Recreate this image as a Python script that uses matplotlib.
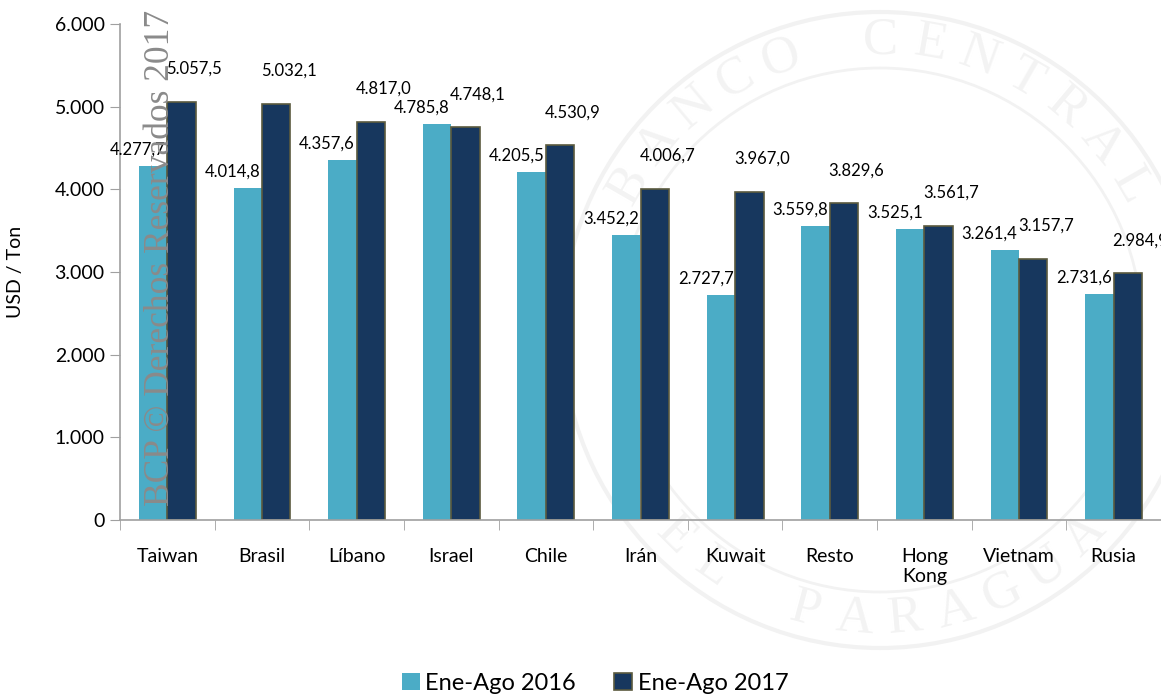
import matplotlib.pyplot as plt
import numpy as np
from matplotlib.patches import Circle

plt.rcParams['font.family'] = ['Lato', 'DejaVu Sans']

# data
paises = ['Taiwan', 'Brasil', 'Líbano', 'Israel', 'Chile', 'Irán', 'Kuwait',
          'Resto', 'Hong\nKong', 'Vietnam', 'Rusia']
ene_ago_2016 = [4277.7, 4014.8, 4357.6, 4785.8, 4205.5, 3452.2, 2727.7,
                3559.8, 3525.1, 3261.4, 2731.6]
ene_ago_2017 = [5057.5, 5032.1, 4817.0, 4748.1, 4530.9, 4006.7, 3967.0,
                3829.6, 3561.7, 3157.7, 2984.9]
serie_labels = ['Ene-Ago 2016', 'Ene-Ago 2017']


def fmt_es(v, dec=1):
    s = f"{v:,.{dec}f}"
    return s.replace(',', 'X').replace('.', ',').replace('X', '.')


fig = plt.figure(figsize=(11.61, 6.96), dpi=100)

# faint background seal
bg = fig.add_axes([0, 0, 1, 1], zorder=-1)
bg.set_xlim(0, 1161)
bg.set_ylim(696, 0)
bg.axis('off')
for r, lw in [(318, 3), (262, 2)]:
    bg.add_patch(Circle((880, 330), r, fill=False, ec='#f2f2f2', lw=lw))
arc_top = 'BANCO CENTRAL'
for i, ch in enumerate(arc_top):
    ang = np.deg2rad(150 - i * 10)
    x = 880 + 290 * np.cos(ang)
    y = 330 - 290 * np.sin(ang)
    bg.text(x, y, ch, fontsize=38, color='#f3f3f3', family='Liberation Serif',
            rotation=np.rad2deg(ang) - 90, ha='center', va='center')
arc_bot = 'DEL PARAGUAY'
for i, ch in enumerate(arc_bot):
    ang = np.deg2rad(-145 + i * 10)
    x = 880 + 290 * np.cos(ang)
    y = 330 - 290 * np.sin(ang)
    bg.text(x, y, ch, fontsize=38, color='#f3f3f3', family='Liberation Serif',
            rotation=np.rad2deg(ang) + 90, ha='center', va='center')

ax = fig.add_axes([120 / 1161, 1 - 520 / 696, 1 - 120 / 1161, (520 - 24) / 696])
ax.patch.set_alpha(0)

x = np.arange(len(paises))
w = 0.3
b1 = ax.bar(x - w / 2, ene_ago_2016, w, color='#4bacc6', label=serie_labels[0])
b2 = ax.bar(x + w / 2, ene_ago_2017, w, color='#17375e', edgecolor='#5b5a3e',
            linewidth=1.2, label=serie_labels[1])

for rect, v in zip(b1, ene_ago_2016):
    ax.annotate(fmt_es(v), (rect.get_x() + rect.get_width() / 2, v),
                xytext=(-11, 6), textcoords='offset points',
                ha='center', va='bottom', fontsize=12)
for rect, v in zip(b2, ene_ago_2017):
    ax.annotate(fmt_es(v), (rect.get_x() + rect.get_width() / 2, v),
                xytext=(9, 18), textcoords='offset points',
                ha='center', va='bottom', fontsize=12)

ax.set_xlim(-0.5, len(paises) - 0.5)
ax.set_ylim(0, 6000)
ax.set_yticks(np.arange(0, 6001, 1000))
ax.set_yticklabels([fmt_es(v, 0) for v in np.arange(0, 6001, 1000)], fontsize=14)
ax.set_xticks(x)
ax.set_xticklabels(paises, fontsize=14, va='top')
ax.set_xticks(np.arange(-0.5, len(paises), 1), minor=True)
ax.tick_params(axis='x', which='major', length=0, pad=20)
ax.tick_params(axis='x', which='minor', length=7, color='#a0a0a0')
ax.tick_params(axis='y', length=7, color='#a0a0a0', pad=4)
for s in ['top', 'right']:
    ax.spines[s].set_visible(False)
for s in ['left', 'bottom']:
    ax.spines[s].set_color('#a0a0a0')
    ax.spines[s].set_linewidth(1.2)
ax.set_ylabel('USD / Ton', fontsize=14, labelpad=22)

fig.legend(handles=[b1, b2], loc='center', bbox_to_anchor=(595 / 1161, 1 - 683 / 696),
           ncol=2, frameon=False, fontsize=17, handlelength=0.75, handleheight=0.75,
           handletextpad=0.25, columnspacing=1.6)

# watermark
fig.text(160 / 1161, 1 - 258 / 696, 'BCP © Derechos Reservados 2017', rotation=90,
         ha='center', va='center', fontsize=25.5, color='#8a8a8a',
         family='Liberation Serif')

fig.savefig('out.png', dpi=100)
